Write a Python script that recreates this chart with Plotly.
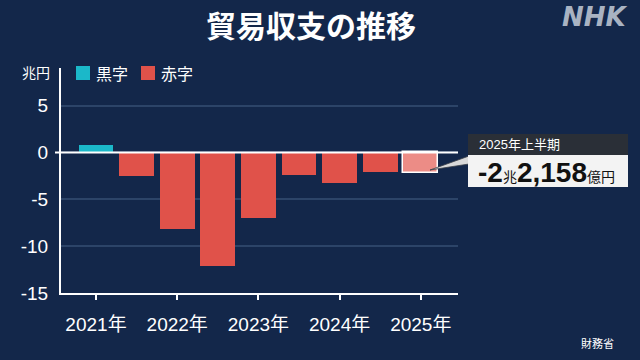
import plotly.graph_objects as go

# ---- data ----
periods = ["2021上", "2021下", "2022上", "2022下", "2023上", "2023下", "2024上", "2024下", "2025上"]
balance = [0.8, -2.55, -8.2, -12.1, -7.0, -2.45, -3.3, -2.1, -2.2158]
tick_pos = [0, 2, 4, 6, 8]
tick_labels = ["2021年", "2022年", "2023年", "2024年", "2025年"]
y_ticks = [5, 0, -5, -10, -15]
legend_names = ["黒字", "赤字"]

BG = "#13274a"
TEAL = "#1bb8c9"
RED = "#e0524a"
PINK = "#ec8c86"
GRID = "#2c4468"
FONT = "Liberation Sans, Arial, Noto Sans CJK JP, sans-serif"
JFONT = "Noto Sans CJK JP, sans-serif"

x = list(range(len(periods)))
surplus = [v if v >= 0 else None for v in balance]
deficit = [v if v < 0 else None for v in balance]
last = len(balance) - 1
deficit_colors = [PINK if i == last else RED for i in x]
deficit_lines = ["white" if i == last else RED for i in x]
deficit_lw = [1.5 if i == last else 0 for i in x]

fig = go.Figure()
fig.add_trace(go.Bar(x=x, y=surplus, name=legend_names[0], marker=dict(color=TEAL, line=dict(width=0)),
                     width=0.86, showlegend=False, hoverinfo="skip"))
fig.add_trace(go.Bar(x=x, y=deficit, name=legend_names[1],
                     marker=dict(color=deficit_colors, line=dict(color=deficit_lines, width=deficit_lw)),
                     width=0.86, showlegend=False, hoverinfo="skip"))

# pixel -> paper helpers (plot area: x 61..458, y 68..293)
L, R, T, B = 61, 458, 68, 293
def px(v):
    return (v - L) / (R - L)
def py(v):
    return (B - v) / (B - T)

shapes = []
# zero line
shapes.append(dict(type="line", xref="paper", yref="y", x0=px(55), x1=1, y0=0, y1=0,
                   line=dict(color="white", width=2), layer="above"))
# legend swatches
shapes.append(dict(type="rect", xref="paper", yref="paper", x0=px(76), x1=px(90), y0=py(80), y1=py(66),
                   fillcolor=TEAL, line=dict(width=0)))
shapes.append(dict(type="rect", xref="paper", yref="paper", x0=px(141), x1=px(155), y0=py(80), y1=py(66),
                   fillcolor=RED, line=dict(width=0)))
# callout connector
shapes.append(dict(type="path", xref="paper", yref="paper",
                   path=f"M {px(430)} {py(170)} L {px(469)} {py(156)} L {px(469)} {py(164)} Z",
                   fillcolor="#d9d9d9", line=dict(color="#3a3f47", width=0.8), layer="above"))
# header box
shapes.append(dict(type="rect", xref="paper", yref="paper", x0=px(468), x1=px(628), y0=py(155), y1=py(134),
                   fillcolor="#2a2f37", line=dict(width=0), layer="above"))
# value box
shapes.append(dict(type="rect", xref="paper", yref="paper", x0=px(468), x1=px(628), y0=py(187), y1=py(155),
                   fillcolor="#f3f3f3", line=dict(width=0), layer="above"))

def ann(text, xp, yp, size, color, family=FONT, xanchor="center"):
    return dict(text=text, x=px(xp), y=py(yp), xref="paper", yref="paper", showarrow=False,
                xanchor=xanchor, yanchor="middle", font=dict(family=family, size=size, color=color))

annotations = [
    ann("<b>貿易収支の推移</b>", 311, 24, 30, "white", JFONT),
    ann("<b><i>NHK</i></b>", 595, 17, 26, "#a9b3c2", "DejaVu Sans"),
    ann("兆円", 36, 72, 14, "white", JFONT),
    ann(legend_names[0], 94, 73, 16, "white", JFONT, "left"),
    ann(legend_names[1], 159, 73, 16, "white", JFONT, "left"),
    ann("2025年上半期", 477, 144, 13, "white", FONT, "left"),
    ann("<b>-2</b><span style='font-size:14px'>兆</span><b>2,158</b><span style='font-size:14px'>億円</span>",
        476, 172, 28, "#111111", FONT, "left"),
    ann("財務省", 616, 343, 11, "white", JFONT, "right"),
]

fig.update_layout(
    width=640, height=360,
    margin=dict(l=L, r=640 - R, t=T, b=360 - B),
    paper_bgcolor=BG, plot_bgcolor=BG,
    barmode="overlay",
    bargap=0,
    showlegend=False,
    xaxis=dict(range=[-0.862, 8.916], tickmode="array", tickvals=tick_pos, ticktext=tick_labels,
               showgrid=False, zeroline=False, showline=True, linecolor="white", linewidth=2,
               ticks="outside", ticklen=5, tickcolor="white", tickwidth=1.5,
               tickfont=dict(family=FONT, size=19, color="white"), ticklabelstandoff=8),
    yaxis=dict(range=[-15, 9], tickmode="array", tickvals=y_ticks, ticktext=[str(v) for v in y_ticks],
               showgrid=True, gridcolor=GRID, gridwidth=1.5, zeroline=False,
               showline=True, linecolor="white", linewidth=2,
               tickfont=dict(family=FONT, size=19, color="white"), ticklabelstandoff=7),
    shapes=shapes,
    annotations=annotations,
    font=dict(family=FONT, color="white"),
)

fig.write_html("out.html", config={"displayModeBar": False},
               post_script="document.body.style.margin='0';document.body.style.overflow='hidden';")
